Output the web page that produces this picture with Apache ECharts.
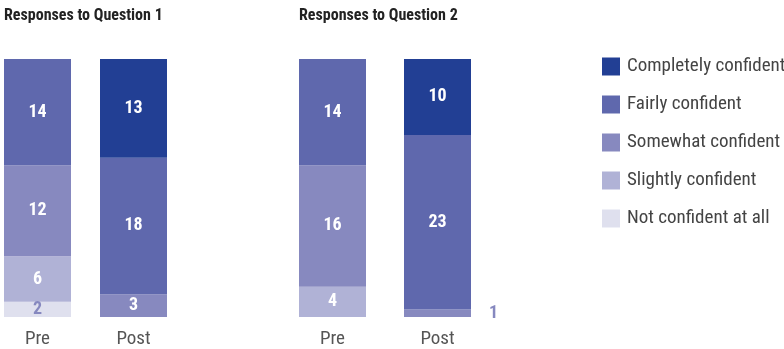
<!DOCTYPE html>
<html><head><meta charset="utf-8">
<script src="https://cdn.jsdelivr.net/npm/echarts@6/dist/echarts.min.js"></script>
<style>html,body{margin:0;padding:0;background:#fff}#c{width:784px;height:349px}</style>
</head><body><div id="c"></div>
<script>
const categories = ['Pre', 'Post'];
const levels = ['Not confident at all', 'Slightly confident', 'Somewhat confident', 'Fairly confident', 'Completely confident'];
const colors = ['#dfe0ee', '#b0b2d6', '#8789bf', '#5f68ad', '#223f94'];
// Question 1 values (Pre, Post)
const q1Not = [2, 0];
const q1Slightly = [6, 0];
const q1Somewhat = [12, 3];
const q1Fairly = [14, 18];
const q1Completely = [0, 13];
// Question 2 values (Pre, Post)
const q2Not = [0, 0];
const q2Slightly = [4, 0];
const q2Somewhat = [16, 1];
const q2Fairly = [14, 23];
const q2Completely = [0, 10];
const titles = ['Responses to Question 1', 'Responses to Question 2'];

const FONT = '"Roboto Condensed", "Liberation Sans Narrow", Roboto, sans-serif';
const q1 = [q1Not, q1Slightly, q1Somewhat, q1Fairly, q1Completely];
const q2 = [q2Not, q2Slightly, q2Somewhat, q2Fairly, q2Completely];

function mkData(vals, li, qi) {
  return vals.map((v, ci) => {
    if (!v) return null;
    const d = { value: v };
    if (li === 0) d.label = { color: '#8688bf' };
    if (qi === 1 && ci === 1 && li === 2) d.label = { position: 'right', distance: 18, color: '#8688bf' };
    return d;
  });
}
const series = [];
[q1, q2].forEach((q, qi) => {
  q.forEach((vals, li) => {
    series.push({
      name: levels[li], type: 'bar', stack: 'q' + qi,
      xAxisIndex: qi, yAxisIndex: qi, barWidth: 67,
      itemStyle: { color: colors[li] },
      label: { show: true, position: 'inside', color: '#fff', fontFamily: FONT, fontWeight: 'bold', fontSize: 18 },
      data: mkData(vals, li, qi)
    });
  });
});

const chart = echarts.init(document.getElementById('c'), null, { renderer: 'canvas' });
chart.setOption({
  animation: false,
  title: titles.map((t, i) => ({
    text: t, left: i === 0 ? 4 : 299, top: 8, padding: 0,
    textStyle: { fontFamily: FONT, fontWeight: 'bold', fontSize: 16, color: '#222' }
  })),
  legend: {
    orient: 'vertical', left: 602, top: 57, itemWidth: 18, itemHeight: 18, itemGap: 19,
    padding: 0, icon: 'rect',
    data: levels.slice().reverse(),
    textStyle: { fontFamily: FONT, fontSize: 19, color: '#444', padding: [0, 0, 0, 2] }
  },
  grid: [
    { left: 37.5, width: 96, top: 59, bottom: 32 },
    { left: 332.5, width: 105, top: 59, bottom: 32 }
  ],
  xAxis: [0, 1].map(i => ({
    type: 'category', gridIndex: i, data: categories, boundaryGap: false,
    axisLine: { show: false }, axisTick: { show: false },
    axisLabel: { fontFamily: FONT, fontSize: 19, color: '#555', margin: 13 }
  })),
  yAxis: [0, 1].map(i => ({
    type: 'value', gridIndex: i, min: 0, max: 34, show: false, splitLine: { show: false }
  })),
  series
});
</script></body></html>
